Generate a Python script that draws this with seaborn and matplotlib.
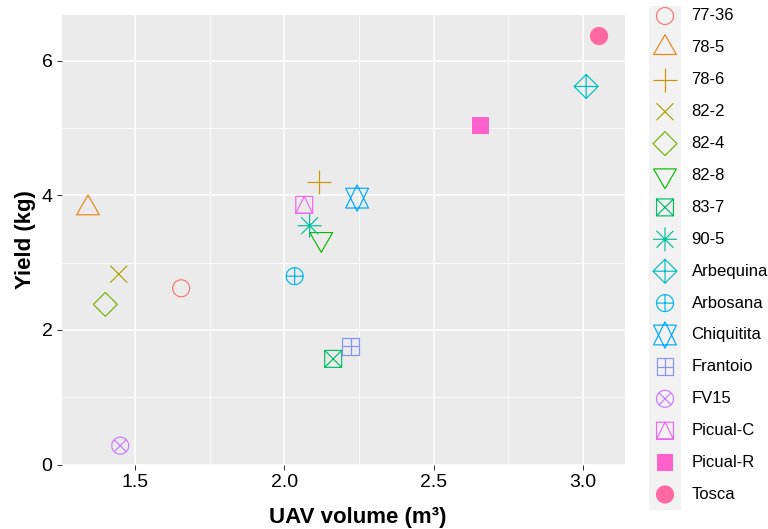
import numpy as np
import pandas as pd
import matplotlib
matplotlib.use('Agg')
import matplotlib.pyplot as plt
from matplotlib.path import Path
from matplotlib.ticker import MultipleLocator
from matplotlib.transforms import blended_transform_factory
import seaborn as sns

# data
cultivars = ['77-36', '78-5', '78-6', '82-2', '82-4', '82-8', '83-7', '90-5',
             'Arbequina', 'Arbosana', 'Chiquitita', 'Frantoio', 'FV15',
             'Picual-C', 'Picual-R', 'Tosca']
uav_volume = [1.655, 1.343, 2.118, 1.446, 1.401, 2.124, 2.164, 2.085,
              3.011, 2.035, 2.244, 2.222, 1.451, 2.067, 2.657, 3.054]
yield_kg = [2.62, 3.81, 4.20, 2.83, 2.38, 3.35, 1.57, 3.55,
            5.62, 2.80, 3.96, 1.76, 0.28, 3.86, 5.04, 6.37]
pch = list(range(1, 17))  # R point shapes 1..16

df = pd.DataFrame({'volume': uav_volume, 'yield': yield_kg, 'cultivar': cultivars})


def hue_pal(n, c=100, l=65):
    # ggplot2 default hue palette (HCL -> sRGB)
    hs = np.linspace(15, 375, n + 1)[:n]
    out = []
    Xn, Yn, Zn = 95.047, 100.0, 108.883
    den = Xn + 15 * Yn + 3 * Zn
    un, vn = 4 * Xn / den, 9 * Yn / den
    M = np.array([[3.240479, -1.537150, -0.498535],
                  [-0.969256, 1.875992, 0.041556],
                  [0.055648, -0.204043, 1.057311]])
    for h in hs:
        r = np.deg2rad(h)
        u, v = c * np.cos(r), c * np.sin(r)
        Y = Yn * ((l + 16) / 116) ** 3
        up, vp = u / (13 * l) + un, v / (13 * l) + vn
        X = 9 * Y * up / (4 * vp)
        Z = -X / 3 - 5 * Y + 3 * Y / vp
        rgb = M @ np.array([X, Y, Z]) / 100
        rgb = np.where(rgb > 0.0031308, 1.055 * np.abs(rgb) ** (1 / 2.4) - 0.055, 12.92 * rgb)
        out.append(tuple(np.clip(rgb, 0, 1)))
    return out


colors = dict(zip(cultivars, hue_pal(len(cultivars))))

# R pch shapes as paths (RADIUS = 1)
s2 = np.sqrt(2)
T0, T1, T2 = 1.55512030155621416, 1.34677368708859836, 0.77756015077810708
ang = np.linspace(0, 2 * np.pi, 61)[:-1]
circ = (list(zip(np.cos(ang), np.sin(ang))), True)
tri_up = ([(0, T0), (T1, -T2), (-T1, -T2)], True)
tri_dn = ([(0, -T0), (T1, T2), (-T1, T2)], True)
sq = ([(-1, -1), (1, -1), (1, 1), (-1, 1)], True)
dmd = ([(0, s2), (s2, 0), (0, -s2), (-s2, 0)], True)
plus1 = [([(-1, 0), (1, 0)], False), ([(0, -1), (0, 1)], False)]
pluss2 = [([(-s2, 0), (s2, 0)], False), ([(0, -s2), (0, s2)], False)]
times1 = [([(-1, -1), (1, 1)], False), ([(-1, 1), (1, -1)], False)]
k = 1 / s2
times_in = [([(-k, -k), (k, k)], False), ([(-k, k), (k, -k)], False)]
yc11 = 0.5 * (T2 + T0)
star = [([(0, -T0), (T1, yc11), (-T1, yc11)], True),
        ([(0, T0), (T1, -yc11), (-T1, -yc11)], True)]

shape_parts = {
    1: [circ], 2: [tri_up], 3: pluss2, 4: times1, 5: [dmd], 6: [tri_dn],
    7: [sq] + times1, 8: times1 + pluss2, 9: [dmd] + pluss2,
    10: [circ] + plus1, 11: star, 12: [sq] + plus1, 13: [circ] + times_in,
    14: [sq, ([(0, 1), (1, -1), (-1, -1)], True)], 15: [sq], 16: [circ],
}


def make_path(parts):
    verts, codes = [], []
    for pts, closed in parts:
        verts += list(pts)
        codes += [Path.MOVETO] + [Path.LINETO] * (len(pts) - 1)
        if closed:
            verts.append(pts[0])
            codes.append(Path.CLOSEPOLY)
    return Path(np.array(verts, float), codes)


paths = {p: make_path(parts) for p, parts in shape_parts.items()}
extent = {p: np.max(np.abs(paths[p].vertices)) for p in paths}
markers = {c: paths[p] for c, p in zip(cultivars, pch)}

R_PT = 6.1   # point radius in points
LW = 0.85


def restyle(coll, names):
    ps = [pch[cultivars.index(n)] for n in names]
    cols = [colors[n] for n in names]
    coll.set_sizes([(2 * extent[p] * R_PT) ** 2 for p in ps])
    coll.set_facecolors([c if p in (15, 16) else 'none' for c, p in zip(cols, ps)])
    coll.set_edgecolors(cols)
    coll.set_linewidths([0 if p == 15 else LW for p in ps])


sns.set_theme(style='darkgrid', rc={'axes.facecolor': '#EBEBEB', 'grid.color': 'white'})
plt.rcParams['font.family'] = ['Liberation Sans', 'DejaVu Sans']

fig = plt.figure(figsize=(7.68, 5.29), dpi=100)
W, H = 768, 529
ax = fig.add_axes([62 / W, (H - 464.5) / H, (625 - 62) / W, 450 / H])

sns.scatterplot(data=df, x='volume', y='yield', hue='cultivar', style='cultivar',
                palette=colors, markers=markers, legend=False, ax=ax)
restyle(ax.collections[0], df['cultivar'].tolist())

ax.set_xlim(1.256, 3.141)
ax.set_ylim(0, 6.69)
ax.set_xticks([1.5, 2.0, 2.5, 3.0])
ax.set_xticklabels(['1.5', '2.0', '2.5', '3.0'])
ax.set_yticks([0, 2, 4, 6])
ax.xaxis.set_minor_locator(MultipleLocator(0.25))
ax.yaxis.set_minor_locator(MultipleLocator(1))
ax.grid(which='major', color='white', lw=1.1)
ax.grid(which='minor', color='white', lw=0.55)
ax.tick_params(which='major', bottom=True, left=True, length=3.4, width=0.75,
               color='#333333', labelsize=14, labelcolor='black', pad=3.5)
ax.tick_params(which='minor', length=0)
for sp in ax.spines.values():
    sp.set_visible(False)

ax.set_xlabel('UAV volume (m³)', fontsize=16, fontweight='bold', color='black', va='center')
ax.xaxis.set_label_coords((358 - 62) / 563, -(517 - 464.5) / 450)
ax.set_ylabel('Yield (kg)', fontsize=16, fontweight='bold', color='black', va='center')
ax.yaxis.set_label_coords((25 - 62) / 563, 0.5)

# legend: grey key column with markers and labels
top, bot, step, first = 6, 510, 31.9, 16
lax = fig.add_axes([649 / W, (H - bot) / H, (681 - 649) / W, (bot - top) / H])
lax.set_facecolor('#F2F2F2')
sns.scatterplot(x=np.zeros(len(cultivars)), y=np.arange(len(cultivars)),
                hue=cultivars, style=cultivars, palette=colors, markers=markers,
                legend=False, ax=lax)
restyle(lax.collections[0], cultivars)
lax.set_xlim(-1, 1)
lax.set_ylim((bot - first) / step, (top - first) / step)
lax.grid(False)
lax.set_xticks([])
lax.set_yticks([])
lax.set_xlabel('')
lax.set_ylabel('')
for sp in lax.spines.values():
    sp.set_visible(False)
tr = blended_transform_factory(lax.transAxes, lax.transData)
for i, name in enumerate(cultivars):
    lax.text((691.5 - 649) / 32, i, name, transform=tr, fontsize=12,
             va='center', ha='left', color='black', clip_on=False)

fig.savefig('out.png', dpi=100)
